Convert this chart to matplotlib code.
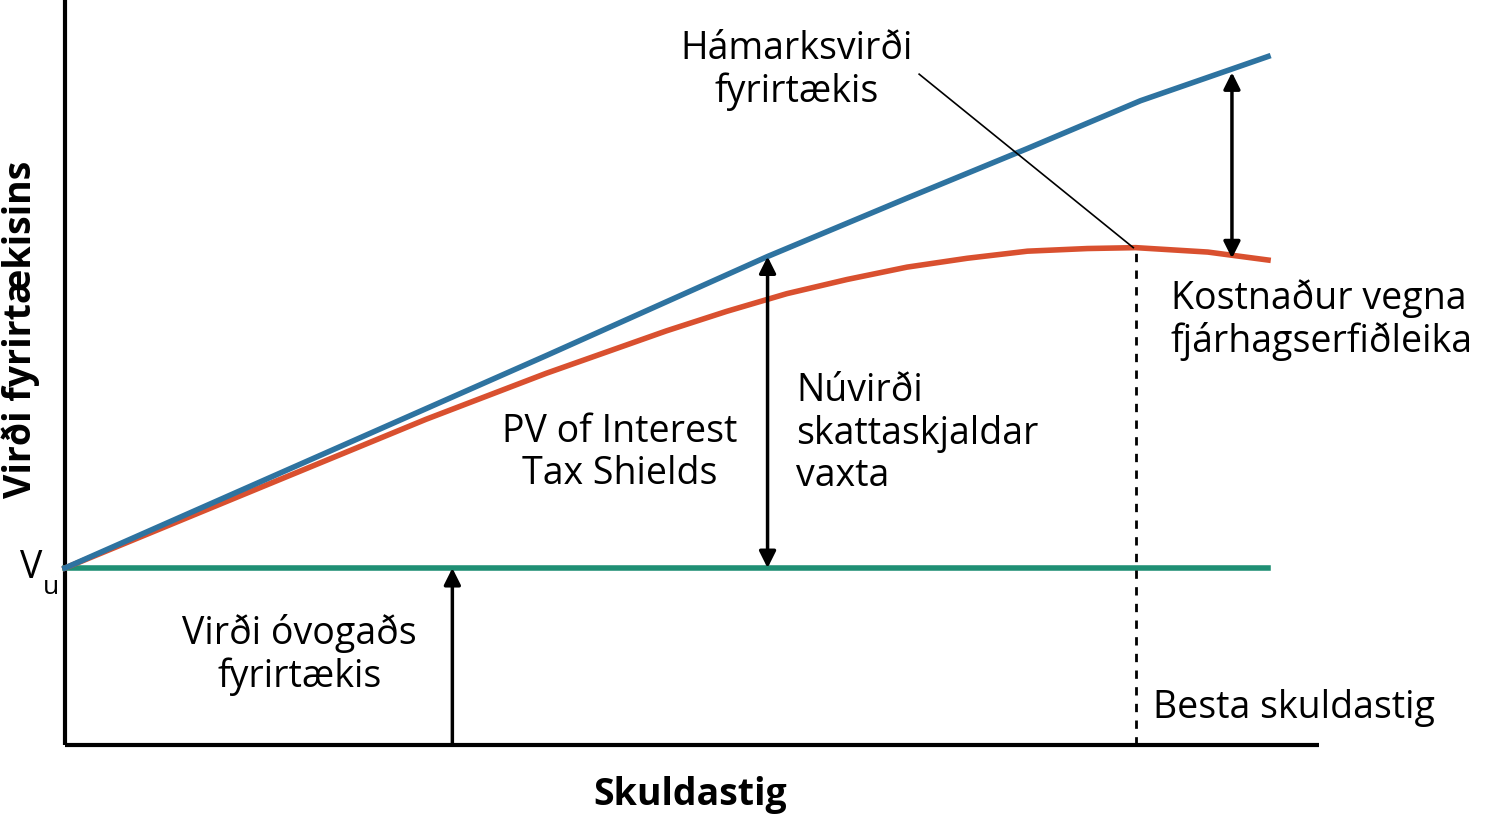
import numpy as np
import matplotlib.pyplot as plt

plt.rcParams['font.family'] = ['Open Sans', 'DejaVu Sans']

# debt level (x) and firm value (y)
debt_blue = [0, 2, 4, 5.84, 7, 8, 8.94, 10]
value_levered = [10, 16.0, 22.0, 27.6, 30.9, 33.7, 36.4, 38.9]
debt_red = [0, 0.5, 1, 1.5, 2, 2.5, 3, 3.5, 4, 4.5, 5, 5.5, 6, 6.5, 7, 7.5, 8, 8.5, 8.9, 9.5, 10]
value_distress = [10, 11.4, 12.8, 14.2, 15.6, 17.0, 18.4, 19.7, 21.0, 22.2, 23.4, 24.5,
                  25.5, 26.3, 27.0, 27.5, 27.9, 28.05, 28.1, 27.85, 27.4]
debt_green = [0, 10]
value_unlevered = [10, 10]
optimal_debt = 8.9

blue = "#2e73a0"
red = "#d9502f"
green = "#1f8f74"

fig = plt.figure(figsize=(14.87, 8.24), dpi=100)
ax = fig.add_axes([0, 0, 1, 1])
ax.set_xlim(-0.54, 11.82)
ax.set_ylim(-4.46, 42.09)
ax.axis("off")

# axes
ax.plot([0, 0], [0, 42.1], color="black", lw=3, solid_capstyle="butt")
ax.plot([0, 10.42], [0, 0], color="black", lw=3, solid_capstyle="butt")

ax.plot(debt_green, value_unlevered, color=green, lw=4)
ax.plot(debt_red, value_distress, color=red, lw=4, solid_joinstyle="round")
ax.plot(debt_blue, value_levered, color=blue, lw=4, solid_joinstyle="round")

# optimal debt
ax.plot([optimal_debt, optimal_debt], [0, 28.1], color="black", lw=2, ls=(0, (3, 3)))

arrow = dict(arrowstyle="<|-|>", color="black", lw=2.5, mutation_scale=25, shrinkA=0, shrinkB=0)
ax.annotate("", xy=(5.84, 10), xytext=(5.84, 27.6), arrowprops=arrow)
ax.annotate("", xy=(9.70, 27.5), xytext=(9.70, 38.0), arrowprops=arrow)
ax.annotate("", xy=(3.22, 10), xytext=(3.22, 0),
            arrowprops=dict(arrowstyle="-|>", color="black", lw=2.5, mutation_scale=25,
                            shrinkA=0, shrinkB=0))
ax.plot([7.1, 8.88], [37.9, 28.1], color="black", lw=1.2)

fs = 27
ls = 1.15
ax.text(6.08, 38.1, "Hámarksvirði\nfyrirtækis", fontsize=fs, ha="center", va="center", linespacing=ls)
ax.text(9.19, 24.0, "Kostnaður vegna\nfjárhagserfiðleika", fontsize=fs, ha="left", va="center", linespacing=ls)
ax.text(6.08, 17.6, "Núvirði\nskattaskjaldar\nvaxta", fontsize=fs, ha="left", va="center", linespacing=ls)
ax.text(4.61, 16.5, "PV of Interest\nTax Shields", fontsize=fs, ha="center", va="center", linespacing=ls)
ax.text(1.95, 5.1, "Virði óvogaðs\nfyrirtækis", fontsize=fs, ha="center", va="center", linespacing=ls)
ax.text(9.04, 2.1, "Besta skuldastig", fontsize=fs, ha="left", va="center")
ax.text(-0.28, 10, "V", fontsize=fs, ha="center", va="center")
ax.text(-0.12, 8.9, "u", fontsize=19, ha="center", va="center")

ax.text(-0.37, 23.5, "Virði fyrirtækisins", fontsize=fs, fontweight="bold",
        rotation=90, ha="center", va="center")
ax.text(5.2, -2.8, "Skuldastig", fontsize=fs, fontweight="bold", ha="center", va="center")

fig.savefig("out.png", dpi=100)
